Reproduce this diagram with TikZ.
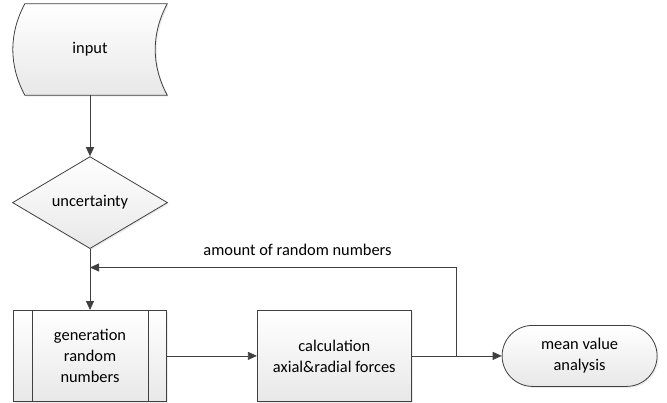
\documentclass[tikz,border=0pt]{standalone}
\usepackage{fontspec}
\setmainfont{Carlito}
\usetikzlibrary{arrows.meta, positioning, shapes.geometric, shapes.misc, shadows, backgrounds}
\definecolor{linegray}{HTML}{404040}

\begin{document}
\begin{tikzpicture}[
  x=1pt, y=1pt,
  node distance=61pt and 90pt,
  font=\fontsize{16.4}{21}\selectfont,
  shapefill/.style={draw=linegray, line width=0.8pt, top color=white, bottom color=black!9, drop shadow={opacity=0.15, shadow xshift=1.5pt, shadow yshift=-1.5pt}},
  datastore/.style={rectangle, minimum width=154pt, minimum height=91pt, inner sep=0pt, align=center},
  decision/.style={shapefill, diamond, minimum width=155pt, minimum height=92pt, inner sep=0pt, align=center},
  subproc/.style={shapefill, rectangle, minimum width=153pt, minimum height=91pt, inner sep=0pt, align=center},
  process/.style={shapefill, rectangle, minimum width=154pt, minimum height=91pt, inner sep=0pt, align=center},
  terminal/.style={shapefill, rounded rectangle, minimum width=155pt, minimum height=61pt, inner sep=0pt, align=center},
  link/.style={draw=linegray, line width=0.8pt},
  arrow/.style={link, -{Triangle[length=9pt, width=8pt]}}
]
\useasboundingbox (0,0) rectangle (667,-402);

% Main column
\node[datastore] (input) at (90,-49.5) {input};
\node[decision, below=of input] (uncert) {uncertainty};
\node[subproc, below=of uncert] (gen) {generation\\random\\numbers};
\node[process, right=of gen] (calc) {calculation\\axial\&radial forces};
\node[terminal, right=of calc] (mean) {mean value\\analysis};

% Stored data outline behind the input text
\begin{pgfonlayer}{background}
\path[shapefill] ([xshift=12pt]input.north west) -- (input.north east)
  .. controls +(-16,-30) and +(-16,30) .. (input.south east)
  -- ([xshift=12pt]input.south west)
  .. controls +(-16,30) and +(-16,-30) .. ([xshift=12pt]input.north west) -- cycle;
\end{pgfonlayer}

% Side bars of the predefined process
\draw[link] ([xshift=19pt]gen.north west) -- ([xshift=19pt]gen.south west);
\draw[link] ([xshift=-19pt]gen.north east) -- ([xshift=-19pt]gen.south east);

% Flow
\draw[arrow] (input) -- (uncert);
\draw[arrow] (uncert) -- (gen);
\draw[arrow] (gen) -- (calc);
\draw[arrow] (calc) -- (mean);

% Feedback loop
\coordinate[right=45pt of calc.east] (split);
\coordinate[below=18.5pt of uncert.south] (merge);
\draw[arrow] (split) |- node[pos=0.717, above=8pt] (amount) {amount of random numbers} (merge);

\end{tikzpicture}
\end{document}
